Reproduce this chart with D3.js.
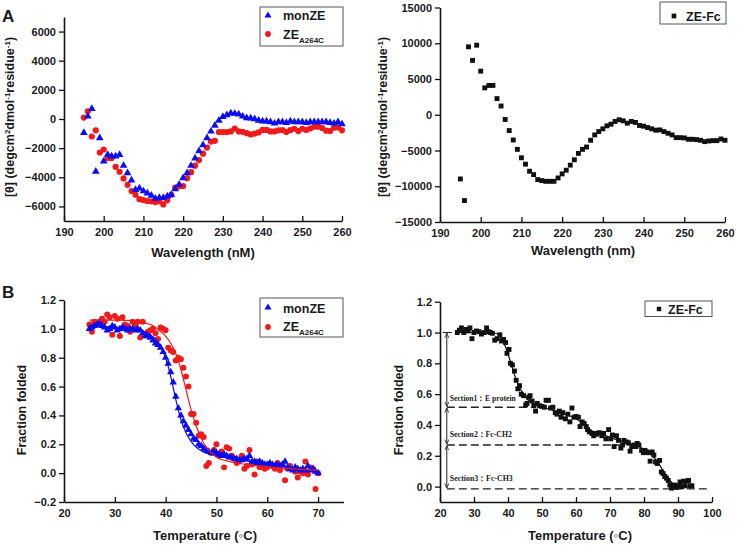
<!DOCTYPE html>
<html><head><meta charset="utf-8">
<script src="https://cdn.jsdelivr.net/npm/d3@7"></script>
<style>
body{margin:0;background:#fff}
svg{display:block}
text{font-family:"Liberation Sans",Arial,sans-serif;font-weight:bold;fill:#1a1a1a}
</style>
</head><body>
<svg id="c" width="745" height="547"></svg>
<script>
// ---------- DATA ----------
// Panel A (left): CD spectra, wavelength 195..260 nm
const wlA = d3.range(195, 261);
const monZE_cd = [-950,180,700,-3600,-1300,-2900,-2450,-2550,-2550,-2450,-3200,-3700,-4200,-4850,-4750,-4950,-5100,-5250,-5450,-5400,-5400,-5300,-5200,-4800,-4500,-4050,-3700,-3200,-2700,-2200,-1780,-1300,-850,-450,-100,150,280,400,370,330,180,70,50,0,-100,-150,-150,-200,-300,-200,-200,-250,-150,-200,-200,-200,-250,-200,-200,-200,-200,-200,-250,-300,-200,-350];
const zeA264C_cd = [100,530,-1200,-780,-2300,-2100,-2680,-2680,-3280,-3620,-4080,-4520,-4940,-5200,-5500,-5560,-5630,-5650,-5700,-5650,-5860,-5580,-5200,-4700,-4620,-4600,-4060,-3650,-3200,-2820,-2380,-1960,-1550,-1500,-900,-900,-900,-850,-650,-850,-880,-970,-1060,-1000,-920,-750,-750,-850,-850,-780,-760,-900,-760,-670,-830,-670,-750,-650,-530,-530,-620,-800,-830,-600,-580,-780];
// Panel A (right): ZE-Fc CD spectrum
const zeFc_cd = [-8980,-12000,9500,7600,9730,6100,3760,4100,4100,2260,1220,-660,-2210,-3530,-4840,-6020,-6910,-7900,-8370,-9070,-9210,-9310,-9310,-9310,-8840,-8270,-7760,-7050,-6300,-5400,-4840,-4510,-3570,-2820,-2350,-1970,-1550,-1320,-940,-700,-850,-1180,-940,-1080,-1500,-1600,-1790,-1970,-2160,-2120,-2350,-2590,-2820,-3200,-3200,-3240,-3430,-3430,-3480,-3570,-3760,-3670,-3620,-3620,-3390,-3570];

// Panel B (left): thermal denaturation, 25..70 °C every 0.5
const tempB = d3.range(25, 70.01, 0.5);
const monZE_ff = [1.00,1.01,1.02,1.03,1.04,1.02,1.01,0.99,1.00,1.02,1.01,0.99,1.00,1.01,1.00,0.99,1.00,1.00,0.99,1.00,0.99,0.97,0.95,0.95,0.94,0.92,0.90,0.89,0.87,0.84,0.80,0.76,0.70,0.63,0.53,0.45,0.40,0.36,0.33,0.30,0.27,0.24,0.23,0.20,0.19,0.17,0.16,0.15,0.14,0.15,0.14,0.13,0.12,0.13,0.12,0.11,0.11,0.10,0.10,0.09,0.09,0.10,0.10,0.12,0.08,0.08,0.07,0.08,0.07,0.06,0.06,0.07,0.06,0.05,0.06,0.05,0.06,0.08,0.04,0.03,0.02,0.04,0.03,0.02,0.03,0.02,0.05,0.02,0.03,0.01,0.00];
const zeA264C_ff = [1.03,0.98,1.05,1.03,1.05,1.07,1.05,1.10,1.08,0.96,1.09,1.07,0.95,1.08,1.03,1.02,0.98,1.05,1.03,1.05,0.94,1.05,0.96,0.98,0.99,1.00,0.97,0.93,1.01,1.00,0.99,0.87,0.85,0.84,0.78,0.80,0.79,0.73,0.67,0.60,0.41,0.41,0.35,0.26,0.27,0.25,0.05,0.07,0.14,0.16,0.20,0.13,0.15,0.04,0.18,0.17,0.12,0.10,0.07,0.09,0.12,0.03,0.05,0.16,0.06,-0.01,0.08,0.04,0.06,0.03,0.04,0.06,0.05,0.03,0.07,0.02,0.06,-0.05,0.03,0.05,0.03,0.01,-0.03,0.01,0.00,0.08,-0.01,0.04,0.03,-0.11,0.00];
const fitBlueT = [25,30,35,36,37,38,39,40,41,42,43,44,45,46,47,48,50,52,55,60,65,70];
const fitBlueV = [1.02,1.01,0.99,0.98,0.96,0.93,0.88,0.80,0.67,0.51,0.37,0.28,0.22,0.18,0.155,0.14,0.12,0.105,0.09,0.06,0.035,0.01];
const fitRedT = [25,30,35,36,37,38,39,40,41,42,43,44,45,46,47,48,49,50,52,55,60,65,70];
const fitRedV = [1.06,1.06,1.05,1.04,1.03,1.01,0.98,0.95,0.90,0.83,0.72,0.58,0.44,0.33,0.24,0.18,0.14,0.11,0.085,0.065,0.045,0.03,0.02];

// Panel B (right): ZE-Fc thermal denaturation
const fcT = [25.1,25.7,26.3,27,27.6,28.3,28.8,29.4,30,30.7,31.5,32.2,33,33.7,34.3,34.8,35.4,36.1,36.8,37.6,38.1,38.7,39.3,39.7,40.3,40.7,41.3,41.9,42.4,42.9,43.4,43.9,44.6,45.2,45.6,46.1,46.5,47.1,47.6,48.1,48.6,49.3,50,50.7,51.2,51.9,52.5,53.2,53.9,54.4,55.1,55.6,56.1,56.9,57.6,58.2,58.8,59.4,60,60.7,61.2,61.8,62.4,63,63.4,63.9,64.7,65.2,65.7,66.1,66.8,67.6,68.1,68.8,69.6,70.2,70.7,71.2,71.9,72.5,73.2,73.7,74.1,74.8,75.4,75.9,76.4,77.1,77.6,78,78.5,79.3,79.8,80.3,80.8,81.3,81.8,82.4,82.9,83.4,83.9,84.6,85.1,85.6,86.1,86.6,87.1,87.6,88.1,88.6,89.1,89.6,90.1,90.6,91.1,91.6,92.1,92.6,93.1,93.6,94.1];
const fcV = [1.00,1.015,1.03,1.0,1.02,1.01,1.03,0.96,1.0,1.01,1.005,0.99,1.0,1.03,1.005,1.0,0.995,0.95,0.96,0.985,0.945,0.955,0.935,0.865,0.89,0.80,0.79,0.75,0.69,0.635,0.655,0.60,0.59,0.53,0.54,0.58,0.59,0.555,0.525,0.49,0.54,0.525,0.52,0.515,0.56,0.56,0.51,0.515,0.48,0.47,0.49,0.45,0.48,0.44,0.47,0.42,0.51,0.45,0.455,0.45,0.39,0.42,0.41,0.39,0.37,0.355,0.345,0.33,0.345,0.34,0.35,0.33,0.345,0.31,0.37,0.31,0.335,0.26,0.33,0.30,0.25,0.27,0.30,0.29,0.285,0.23,0.26,0.27,0.26,0.28,0.27,0.235,0.22,0.235,0.225,0.22,0.165,0.225,0.205,0.16,0.15,0.17,0.095,0.085,0.065,0.055,0.04,0.01,-0.01,0.0,0.01,-0.005,0.005,0.03,0.0,0.035,0.005,0.035,0.04,0.005,0.005];
const fitFcT = [25,30,35,37,38,39,40,41,42,43,44,45,46,47,48,50,52,55,58,60,62,64,66,68,70,72,75,78,80,82,84,86,88,90,92,94];
const fitFcV = [1.0,1.0,1.0,0.99,0.96,0.92,0.86,0.79,0.72,0.66,0.62,0.585,0.56,0.545,0.53,0.515,0.505,0.48,0.46,0.44,0.41,0.37,0.35,0.335,0.32,0.305,0.285,0.265,0.24,0.21,0.16,0.09,0.03,0.0,0.0,0.0];
// section annotations (levels of fraction folded)
const sectionLevels = [1.0, 0.515, 0.27, -0.015];
const sectionEnds = [null, 47, 75.5, 99];
const sectionLabels = ["Section1\uFF1AE protein", "Section2\uFF1AFc-CH2", "Section3\uFF1AFc-CH3"];

// tick labels
const xTicksA = [190,200,210,220,230,240,250,260];
const yTicksAL = [-6000,-4000,-2000,0,2000,4000,6000];
const yTicksAR = [-15000,-10000,-5000,0,5000,10000,15000];
const xTicksBL = [20,30,40,50,60,70];
const xTicksBR = [20,30,40,50,60,70,80,90,100];
const yTicksBL = [-0.2,0.0,0.2,0.4,0.6,0.8,1.0,1.2];
const yTicksBR = [0.0,0.2,0.4,0.6,0.8,1.0,1.2];

// ---------- DRAW ----------
const BLUE = "#0c0cf2", RED = "#f01a1a", BLACK = "#111";
const svg = d3.select("#c");

function axes(g, x, y, xMaj, xMin, yMaj, yMin, yFmt) {
  const y0 = y.range()[0], x0 = x.range()[0];
  const gx = g.append("g").attr("transform", `translate(0,${y0})`);
  gx.call(d3.axisBottom(x).tickValues(xMin).tickSize(-3).tickSizeOuter(0).tickFormat(""));
  gx.call(d3.axisBottom(x).tickValues(xMaj).tickSize(-5).tickSizeOuter(0).tickPadding(7.5).tickFormat(d3.format("d")));
  const gy = g.append("g").attr("transform", `translate(${x0},0)`);
  gy.call(d3.axisLeft(y).tickValues(yMin).tickSize(3).tickSizeOuter(0).tickFormat(""));
  gy.call(d3.axisLeft(y).tickValues(yMaj).tickSize(5).tickSizeOuter(0).tickPadding(3).tickFormat(yFmt));
  g.selectAll(".domain").attr("stroke", "#111").attr("stroke-width", 1.6);
  g.selectAll(".tick line").attr("stroke", "#111").attr("stroke-width", 1.3);
  g.selectAll(".tick text").attr("font-size", 11).attr("font-family", "Liberation Sans, Arial, sans-serif")
    .attr("font-weight", "bold").attr("fill", "#1a1a1a");
}

function pts(g, xs, ys, x, y, type, size, color) {
  const sym = d3.symbol().type(type).size(size);
  g.append("g").selectAll("path").data(xs.map((d, i) => [d, ys[i]]).filter(d => d[1] !== undefined))
    .join("path")
    .attr("d", sym)
    .attr("transform", d => `translate(${x(d[0])},${y(d[1])})`)
    .attr("fill", color);
}

function fitLine(g, xs, ys, x, y, color) {
  const line = d3.line().x(d => x(d[0])).y(d => y(d[1])).curve(d3.curveMonotoneX);
  g.append("path").datum(xs.map((d, i) => [d, ys[i]]))
    .attr("d", line).attr("fill", "none").attr("stroke", color).attr("stroke-width", 1.2);
}

function yTitle(cx, cy, parts) {
  const t = svg.append("text").attr("transform", `translate(${cx},${cy}) rotate(-90)`)
    .attr("text-anchor", "middle").attr("font-size", 12.5);
  parts.forEach(p => {
    const ts = t.append("tspan").text(p.t);
    if (p.sup) ts.attr("font-size", 8).attr("baseline-shift", "super");
  });
}
function xTitle(cx, by, s) {
  svg.append("text").attr("x", cx).attr("y", by).attr("text-anchor", "middle").attr("font-size", 13).text(s);
}

const thetaTitle = [{t:"[θ] (degcm"},{t:"2",sup:1},{t:"dmol"},{t:"-1",sup:1},{t:"residue"},{t:"-1",sup:1},{t:")"}];

// ===== Panel A left =====
{
  const x = d3.scaleLinear().domain([190, 260]).range([64, 342]);
  const y = d3.scaleLinear().domain([-7000, 7000]).range([221, 17]);
  const g = svg.append("g");
  axes(g, x, y, xTicksA, d3.range(195, 260, 10), yTicksAL, d3.range(-7000, 7001, 1000).filter(v => v % 2000 !== 0), d3.format("d"));
  pts(g, wlA, zeA264C_cd, x, y, d3.symbolCircle, 30, RED);
  pts(g, wlA, monZE_cd, x, y, d3.symbolTriangle, 26, BLUE);
  yTitle(14, 117, thetaTitle);
  xTitle(203, 257, "Wavelength (nM)");
  svg.append("text").attr("x", 2).attr("y", 22).attr("font-size", 17).text("A");
  // legend
  const lg = svg.append("g");
  lg.append("rect").attr("x", 260).attr("y", 7).attr("width", 83).attr("height", 39)
    .attr("fill", "#fff").attr("stroke", "#555").attr("stroke-width", 1);
  lg.append("path").attr("d", d3.symbol().type(d3.symbolTriangle).size(22)()).attr("transform", "translate(268,15.5)").attr("fill", BLUE);
  lg.append("path").attr("d", d3.symbol().type(d3.symbolCircle).size(26)()).attr("transform", "translate(268,34)").attr("fill", RED);
  lg.append("text").attr("x", 283).attr("y", 20).attr("font-size", 12.5).text("monZE");
  const t2 = lg.append("text").attr("x", 283).attr("y", 38.5).attr("font-size", 12.5);
  t2.append("tspan").text("ZE");
  t2.append("tspan").attr("font-size", 8).attr("dy", 4).text("A264C");
}

// ===== Panel A right =====
{
  const x = d3.scaleLinear().domain([190, 260]).range([440, 725]);
  const y = d3.scaleLinear().domain([-15000, 15000]).range([222, 7.5]);
  const g = svg.append("g");
  axes(g, x, y, xTicksA, d3.range(195, 260, 10), yTicksAR, d3.range(-12500, 12501, 5000), d3.format("d"));
  pts(g, wlA, zeFc_cd, x, y, d3.symbolSquare, 24, BLACK);
  yTitle(387, 117, thetaTitle);
  xTitle(583, 255, "Wavelength (nm)");
  const lg = svg.append("g");
  lg.append("rect").attr("x", 660).attr("y", 2).attr("width", 66).attr("height", 22)
    .attr("fill", "#fff").attr("stroke", "#555").attr("stroke-width", 1);
  lg.append("path").attr("d", d3.symbol().type(d3.symbolSquare).size(22)()).attr("transform", "translate(674,16)").attr("fill", BLACK);
  lg.append("text").attr("x", 686).attr("y", 20.5).attr("font-size", 12.5).text("ZE-Fc");
}

// ===== Panel B left =====
{
  const x = d3.scaleLinear().domain([20, 75]).range([64, 343.5]);
  const y = d3.scaleLinear().domain([-0.2, 1.2]).range([502, 300]);
  const g = svg.append("g");
  axes(g, x, y, xTicksBL, [25,35,45,55,65,75], yTicksBL, [-0.1,0.1,0.3,0.5,0.7,0.9,1.1], d3.format(".1f"));
  pts(g, tempB, zeA264C_ff, x, y, d3.symbolCircle, 28, RED);
  pts(g, tempB, monZE_ff, x, y, d3.symbolTriangle, 24, BLUE);
  fitLine(g, fitBlueT, fitBlueV, x, y, BLUE);
  fitLine(g, fitRedT, fitRedV, x, y, RED);
  yTitle(26, 410, [{t:"Fraction folded"}]);
  xTitle(205, 540, "Temperature (\u25E6C)");
  svg.append("text").attr("x", 2).attr("y", 298).attr("font-size", 17).text("B");
  const lg = svg.append("g");
  lg.append("rect").attr("x", 260).attr("y", 298).attr("width", 83).attr("height", 39)
    .attr("fill", "#fff").attr("stroke", "#555").attr("stroke-width", 1);
  lg.append("path").attr("d", d3.symbol().type(d3.symbolTriangle).size(22)()).attr("transform", "translate(268,307.5)").attr("fill", BLUE);
  lg.append("path").attr("d", d3.symbol().type(d3.symbolCircle).size(26)()).attr("transform", "translate(268,327)").attr("fill", RED);
  lg.append("text").attr("x", 283).attr("y", 312.5).attr("font-size", 12.5).text("monZE");
  const t2 = lg.append("text").attr("x", 283).attr("y", 331).attr("font-size", 12.5);
  t2.append("tspan").text("ZE");
  t2.append("tspan").attr("font-size", 8).attr("dy", 4).text("A264C");
}

// ===== Panel B right =====
{
  const x = d3.scaleLinear().domain([20, 100]).range([440, 712]);
  const y = d3.scaleLinear().domain([-0.1, 1.2]).range([502, 301.7]);
  const g = svg.append("g");
  axes(g, x, y, xTicksBR, d3.range(25, 100, 10), yTicksBR, [-0.1,0.1,0.3,0.5,0.7,0.9,1.1], d3.format(".1f"));
  // section annotations
  const ag = g.append("g");
  const defs = svg.append("defs");
  defs.append("marker").attr("id", "ah").attr("viewBox", "0 0 10 10").attr("refX", 9).attr("refY", 5)
    .attr("markerWidth", 5).attr("markerHeight", 5).attr("orient", "auto-start-reverse")
    .append("path").attr("d", "M0,1 L10,5 L0,9").attr("fill", "none").attr("stroke", "#222").attr("stroke-width", 1.6);
  const ax = x(22);
  ag.append("line").attr("x1", x(20.8)).attr("x2", x(23.5)).attr("y1", y(sectionLevels[0])).attr("y2", y(sectionLevels[0]))
    .attr("stroke", "#222").attr("stroke-width", 1);
  for (let i = 1; i < sectionLevels.length; i++) {
    ag.append("line").attr("x1", ax).attr("x2", x(sectionEnds[i])).attr("y1", y(sectionLevels[i])).attr("y2", y(sectionLevels[i]))
      .attr("stroke", "#222").attr("stroke-width", 1.4).attr("stroke-dasharray", "8,4");
    ag.append("line").attr("x1", ax).attr("x2", ax).attr("y1", y(sectionLevels[i - 1]) + 1).attr("y2", y(sectionLevels[i]) - 1)
      .attr("stroke", "#222").attr("stroke-width", 1)
      .attr("marker-start", "url(#ah)").attr("marker-end", "url(#ah)");
  }
  pts(g, fcT, fcV, x, y, d3.symbolSquare, 24, BLACK);
  fitLine(g, fitFcT, fitFcV, x, y, BLACK);
  const labY = [0.555, 0.325, 0.035];
  const labW = [66, 62, 63];
  sectionLabels.forEach((s, i) => {
    g.append("text").attr("x", ax + 3).attr("y", y(labY[i])).attr("font-size", 9)
      .attr("textLength", labW[i]).attr("lengthAdjust", "spacingAndGlyphs")
      .style("font-family", "'Liberation Serif','Times New Roman',serif").attr("fill", "#222").text(s);
  });
  yTitle(403, 410, [{t:"Fraction folded"}]);
  xTitle(580, 540, "Temperature (\u25E6C)");
  const lg = svg.append("g");
  lg.append("rect").attr("x", 645).attr("y", 301).attr("width", 67).attr("height", 15.5)
    .attr("fill", "#fff").attr("stroke", "#555").attr("stroke-width", 1);
  lg.append("path").attr("d", d3.symbol().type(d3.symbolSquare).size(20)()).attr("transform", "translate(659,309)").attr("fill", BLACK);
  lg.append("text").attr("x", 668).attr("y", 313.5).attr("font-size", 12.5).text("ZE-Fc");
}
</script>
</body></html>
